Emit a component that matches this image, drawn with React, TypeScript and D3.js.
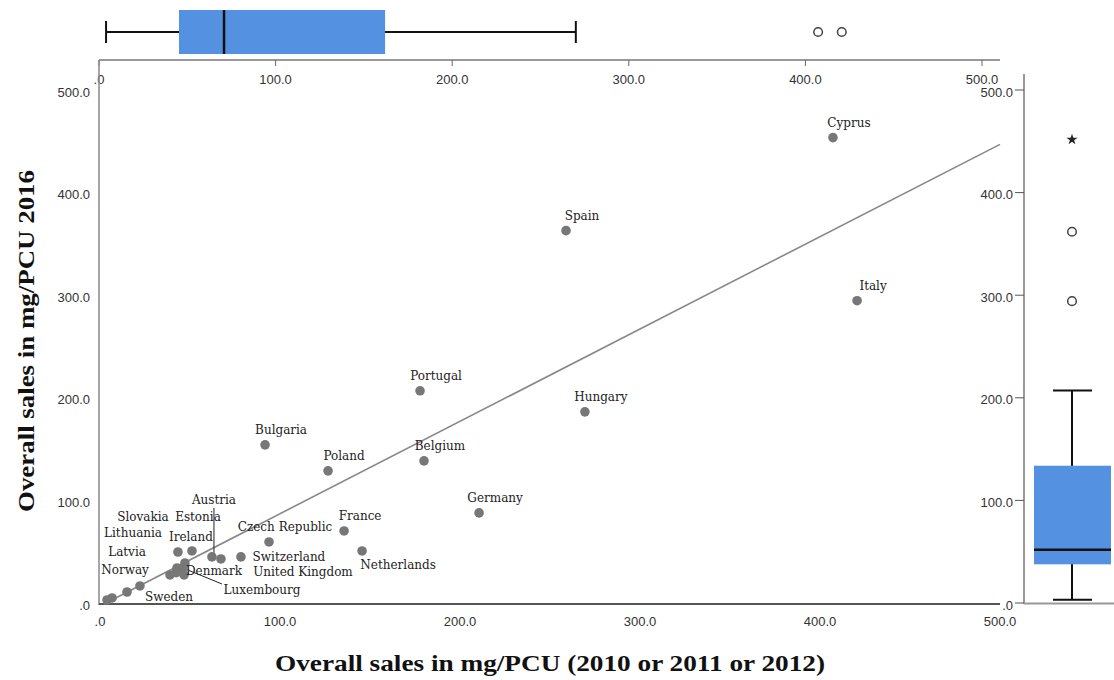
import * as React from "react";
import * as d3 from "d3";

// countries and their sales (mg/PCU): x = 2010/2011/2012, y = 2016
const countries = [
  "Cyprus", "Spain", "Italy", "Portugal", "Hungary", "Bulgaria", "Belgium", "Poland",
  "Germany", "France", "Netherlands", "Czech Republic", "Ireland", "Switzerland",
  "United Kingdom", "Austria", "Estonia", "Slovakia", "Denmark", "Luxembourg",
  "Lithuania", "Latvia", "", "", "Sweden", "", "Norway",
];
const salesBefore = [
  407.2, 258.9, 420.6, 177.8, 269.4, 91.7, 180.0, 126.7,
  210.6, 135.6, 145.6, 93.9, 43.3, 78.3,
  67.2, 62.2, 51.1, 42.8, 47.2, 46.1,
  46.7, 38.9, 42.3, 22.2, 15.0, 6.7, 3.9,
];
const sales2016 = [
  454.6, 363.9, 295.6, 207.8, 187.3, 155.1, 139.5, 129.8,
  88.8, 71.2, 51.7, 60.5, 50.7, 45.9,
  43.9, 45.9, 51.7, 35.1, 40.0, 35.1,
  28.3, 28.3, 30.5, 17.6, 11.7, 5.9, 3.9,
];

// regression fit
const fitSlope = 0.9;
const fitIntercept = -2;

// box plot summaries: [lower whisker, Q1, median, Q3, upper whisker]
const xBoxStats = [4, 45.3, 70.8, 162, 270];
const xOutliers = [407.2, 420.6];
const yBoxStats = [3.2, 37.7, 51.9, 133.8, 207.2];
const yOutliers = [294.2, 361.8];
const yExtremes = [451.7];

const axisTicks = [0, 100, 200, 300, 400, 500];

// label placement (pixel offsets from the point, text centre)
const labelPlace: Record<string, [number, number]> = {
  Netherlands: [36, 14],
  Ireland: [13, -15],
  Estonia: [6, -34],
  Slovakia: [-34, -51],
  Austria: [2, -57],
  Switzerland: [48, 0],
  "United Kingdom": [82, 13],
  Denmark: [29, 8],
  Luxembourg: [79, 22],
  Lithuania: [-51, -42],
  Latvia: [-43, -23],
  Norway: [18, -30],
  Sweden: [42, 5],
};
const leaderLabels = ["Austria", "Luxembourg"];

const fmt = (v: number) => (v === 0 ? ".0" : v.toFixed(1));

export default function App() {
  const W = 1114, H = 680;
  const x = d3.scaleLinear().domain([0, 500]).range([100, 1000]);
  const y = d3.scaleLinear().domain([0, 500]).range([604, 91]);
  const xTop = d3.scaleLinear().domain([0, 500]).range([99, 982]);
  const yR = d3.scaleLinear().domain([0, 500]).range([603, 90]);

  const boxBlue = "#5591e1";
  const sans = "'Liberation Sans', Arial, sans-serif";
  const serif = "'DejaVu Serif', serif";
  const titleFont = "'Liberation Serif', 'Times New Roman', serif";

  const x0 = -fitIntercept / fitSlope;
  const fitLine = d3.line<number>().x((d) => x(d)).y((d) => y(fitSlope * d + fitIntercept));

  const star = d3.symbol().type(d3.symbolStar).size(38)();

  // top box
  const tbY = 32, tbTop = 10, tbBot = 54;
  // right box
  const rbX = 1072, rbL = 1034, rbR = 1111;

  return (
    <svg width={W} height={H} style={{ position: "absolute", left: 0, top: 0, background: "#fff" }}>
      {/* ---- top boxplot ---- */}
      <line x1={99} x2={1000} y1={60} y2={60} stroke="#999" strokeWidth={2} />
      {axisTicks.map((t) => (
        <g key={"tt" + t}>
          <line x1={xTop(t)} x2={xTop(t)} y1={60} y2={66} stroke="#666" />
          <text x={xTop(t)} y={79} textAnchor="middle" dominantBaseline="central" fontFamily={sans} fontSize={13} fill="#333">
            {fmt(t)}
          </text>
        </g>
      ))}
      <line x1={xTop(xBoxStats[0])} x2={xTop(xBoxStats[4])} y1={tbY} y2={tbY} stroke="#111" strokeWidth={2} />
      <line x1={xTop(xBoxStats[0])} x2={xTop(xBoxStats[0])} y1={21} y2={43} stroke="#111" strokeWidth={2} />
      <line x1={xTop(xBoxStats[4])} x2={xTop(xBoxStats[4])} y1={21} y2={43} stroke="#111" strokeWidth={2} />
      <rect x={xTop(xBoxStats[1])} y={tbTop} width={xTop(xBoxStats[3]) - xTop(xBoxStats[1])} height={tbBot - tbTop} fill={boxBlue} />
      <line x1={xTop(xBoxStats[2])} x2={xTop(xBoxStats[2])} y1={tbTop} y2={tbBot} stroke="#111" strokeWidth={2.5} />
      {xOutliers.map((v, i) => (
        <circle key={"xo" + i} cx={xTop(v)} cy={tbY} r={4.3} fill="none" stroke="#444" strokeWidth={1.5} />
      ))}

      {/* ---- right boxplot ---- */}
      <line x1={1024} x2={1024} y1={74} y2={604} stroke="#999" strokeWidth={2} />
      <line x1={1024} x2={1114} y1={603.5} y2={603.5} stroke="#999" strokeWidth={2} />
      {axisTicks.map((t) => (
        <g key={"rt" + t}>
          <line x1={1015} x2={1024} y1={yR(t)} y2={yR(t)} stroke="#555" />
          <text x={1013} y={yR(t) + 2} textAnchor="end" dominantBaseline="central" fontFamily={sans} fontSize={13} fill="#333">
            {fmt(t)}
          </text>
        </g>
      ))}
      <line x1={rbX} x2={rbX} y1={yR(yBoxStats[0])} y2={yR(yBoxStats[4])} stroke="#111" strokeWidth={2} />
      <line x1={1053} x2={1092} y1={yR(yBoxStats[0])} y2={yR(yBoxStats[0])} stroke="#111" strokeWidth={2} />
      <line x1={1053} x2={1092} y1={yR(yBoxStats[4])} y2={yR(yBoxStats[4])} stroke="#111" strokeWidth={2} />
      <rect x={rbL} y={yR(yBoxStats[3])} width={rbR - rbL} height={yR(yBoxStats[1]) - yR(yBoxStats[3])} fill={boxBlue} />
      <line x1={rbL} x2={rbR} y1={yR(yBoxStats[2])} y2={yR(yBoxStats[2])} stroke="#111" strokeWidth={2.5} />
      {yOutliers.map((v, i) => (
        <circle key={"yo" + i} cx={rbX} cy={yR(v)} r={4.3} fill="none" stroke="#444" strokeWidth={1.5} />
      ))}
      {yExtremes.map((v, i) => (
        <path key={"ye" + i} d={star as string} transform={`translate(${rbX},${yR(v)})`} fill="#222" />
      ))}

      {/* ---- main scatter ---- */}
      <line x1={99} x2={99} y1={60} y2={605} stroke="#888" strokeWidth={1.5} />
      <line x1={99} x2={1000} y1={604} y2={604} stroke="#555" strokeWidth={2} />
      {axisTicks.map((t) => (
        <g key={"yt" + t}>
          <text x={90} y={y(t) + 1} textAnchor="end" dominantBaseline="central" fontFamily={sans} fontSize={13} fill="#333">
            {fmt(t)}
          </text>
          <text x={x(t)} y={621} textAnchor="middle" dominantBaseline="central" fontFamily={"'Liberation Sans Narrow', " + sans} fontSize={13} fill="#333">
            {fmt(t)}
          </text>
        </g>
      ))}

      <path d={fitLine([x0, 500]) as string} fill="none" stroke="#888" strokeWidth={1.6} />

      {countries.map((c, i) => {
        if (!leaderLabels.includes(c)) return null;
        const px = x(salesBefore[i]), py = y(sales2016[i]);
        const [dx, dy] = labelPlace[c];
        return c === "Austria" ? (
          <line key={"ll" + i} x1={px + dx} x2={px + dx} y1={py + dy + 8} y2={py - 1} stroke="#222" strokeWidth={1} />
        ) : (
          <line key={"ll" + i} x1={px} x2={px + dx - 40} y1={py} y2={py + dy - 6} stroke="#222" strokeWidth={1} />
        );
      })}

      {salesBefore.map((v, i) => (
        <circle key={"p" + i} cx={x(v)} cy={y(sales2016[i])} r={4.8} fill="#777" />
      ))}

      {countries.map((c, i) => {
        if (!c) return null;
        const [dx, dy] = labelPlace[c] || [16, -15];
        return (
          <text key={"l" + i} x={x(salesBefore[i]) + dx} y={y(sales2016[i]) + dy} textAnchor="middle" dominantBaseline="central" fontFamily={serif} fontSize={12} fill="#222">
            {c}
          </text>
        );
      })}

      {/* axis titles */}
      <text x={550} y={663} textAnchor="middle" dominantBaseline="central" fontFamily={titleFont} fontWeight="bold" fontSize={24} textLength={550} lengthAdjust="spacingAndGlyphs" fill="#111">
        Overall sales in mg/PCU (2010 or 2011 or 2012)
      </text>
      <text transform="translate(26,341) rotate(-90)" textAnchor="middle" dominantBaseline="central" fontFamily={titleFont} fontWeight="bold" fontSize={24} textLength={342} lengthAdjust="spacingAndGlyphs" fill="#111">
        Overall sales in mg/PCU 2016
      </text>
    </svg>
  );
}
